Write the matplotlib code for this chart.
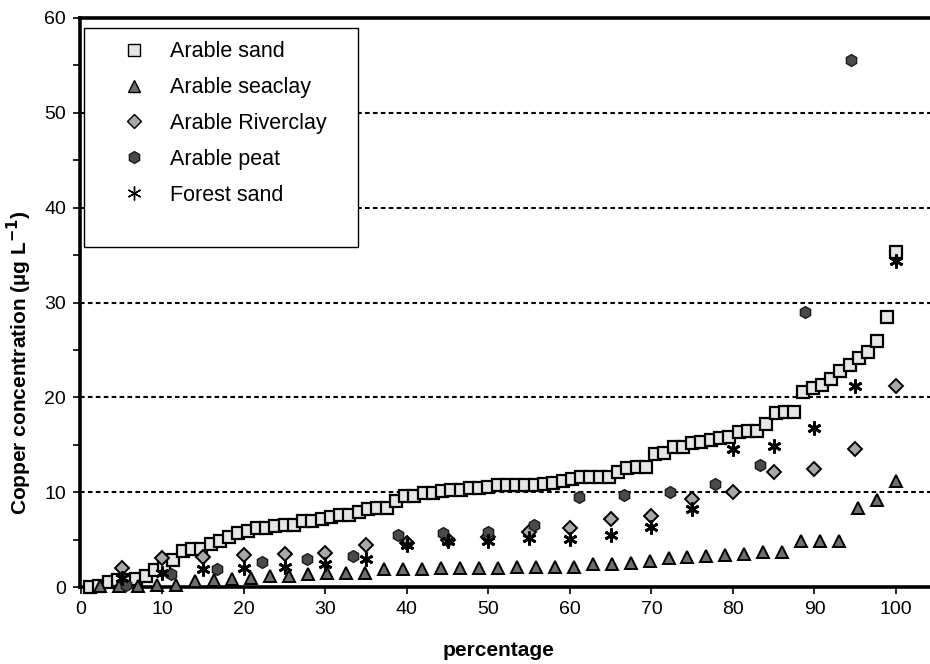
import matplotlib
matplotlib.use("Agg")
import matplotlib.pyplot as plt
from matplotlib.patches import Rectangle
from matplotlib.ticker import MultipleLocator

plt.rcParams["font.family"] = ["Liberation Sans", "DejaVu Sans"]

# cumulative percentage (rank / n * 100) vs. copper concentration (ug/L)
sand_n = 88
sand_cu = [
    0.0, 0.1, 0.5, 0.7, 0.75, 0.8, 1.2, 1.8, 2.3, 2.8,
    3.8, 4.0, 4.0, 4.5, 4.9, 5.3, 5.7, 5.9, 6.2, 6.25,
    6.4, 6.5, 6.5, 7.0, 7.0, 7.2, 7.4, 7.6, 7.6, 7.9,
    8.2, 8.3, 8.3, 9.1, 9.6, 9.6, 9.9, 9.9, 10.1, 10.2,
    10.2, 10.4, 10.4, 10.5, 10.8, 10.8, 10.8, 10.8, 10.8, 10.9,
    11.0, 11.2, 11.4, 11.6, 11.6, 11.6, 11.6, 12.1, 12.5, 12.7,
    12.7, 14.0, 14.1, 14.8, 14.8, 15.2, 15.3, 15.5, 15.7, 15.8,
    16.3, 16.4, 16.5, 17.2, 18.4, 18.5, 18.5, 20.6, 21.0, 21.3,
    21.9, 22.8, 23.4, 24.1, 24.8, 25.9, 28.5, 35.3,
]

seaclay_n = 43
seaclay_cu = [
    0.1, 0.1, 0.1, 0.2, 0.25, 0.6, 0.7, 0.85, 0.9, 1.2,
    1.2, 1.35, 1.5, 1.5, 1.5, 1.9, 1.9, 1.9, 2.0, 2.0,
    2.0, 2.0, 2.15, 2.15, 2.15, 2.15, 2.4, 2.4, 2.5, 2.75,
    3.1, 3.2, 3.3, 3.4, 3.5, 3.7, 3.7, 4.8, 4.8, 4.9,
    8.3, 9.2, 11.2,
]

riverclay_n = 20
riverclay_cu = [
    2.0, 3.1, 3.2, 3.4, 3.5, 3.6, 4.4, 4.6, 5.0, 5.3,
    5.8, 6.2, 7.2, 7.5, 9.3, 10.0, 12.1, 12.4, 14.5, 21.2,
]

# 18 samples, the last one lies above the plotted range
peat_n = 18
peat_cu = [
    0.2, 1.4, 1.9, 2.6, 2.9, 3.3, 5.5, 5.7, 5.8, 6.5,
    9.5, 9.7, 10.0, 10.9, 12.9, 29.0, 55.6,
]

forest_n = 20
forest_cu = [
    1.0, 1.5, 1.9, 2.0, 2.1, 2.4, 3.0, 4.4, 4.8, 4.9,
    5.2, 5.1, 5.5, 6.3, 8.2, 14.5, 14.9, 16.8, 21.2, 34.4,
]

grid_levels = [10, 20, 30, 40, 50]


def pct(n, values):
    return [100.0 * (i + 1) / n for i in range(len(values))]


fig = plt.figure(figsize=(9.3, 6.64), dpi=100)
ax = fig.add_axes([80 / 930, 1 - 587 / 664, 1 - 80 / 930, (587 - 18) / 664])

for lvl in grid_levels:
    ax.axhline(lvl, color="black", lw=1.5, ls=(0, (2.2, 1.6)), zorder=1)

common = dict(ls="none", clip_on=False, zorder=3)
ax.plot(pct(sand_n, sand_cu), sand_cu, marker="s", ms=8, mfc="#e6e6e6",
        mec="black", mew=1.6, label="Arable sand", **common)
ax.plot(pct(seaclay_n, seaclay_cu), seaclay_cu, marker="^", ms=9, mfc="#6e6e6e",
        mec="black", mew=1.4, label="Arable seaclay", **common)
ax.plot(pct(riverclay_n, riverclay_cu), riverclay_cu, marker="D", ms=7, mfc="#a8a8a8",
        mec="black", mew=1.4, label="Arable Riverclay", **common)
ax.plot(pct(peat_n, peat_cu), peat_cu, marker="h", ms=8.5, mfc="#4a4a4a",
        mec="#1a1a1a", mew=1.0, label="Arable peat", **common)
ax.plot(pct(forest_n, forest_cu), forest_cu, marker=(6, 2, 0), ms=10, mfc="black",
        mec="black", mew=2.0, label="Forest sand", **common)

ax.set_xlim(-0.1, (930 - 81) / 8.15)
ax.set_ylim(0, 60)
ax.xaxis.set_major_locator(MultipleLocator(10))
ax.yaxis.set_major_locator(MultipleLocator(10))
ax.yaxis.set_minor_locator(MultipleLocator(5))
ax.tick_params(axis="both", which="major", direction="out", length=5, width=1.2,
               labelsize=14, pad=5)
ax.tick_params(axis="y", which="minor", direction="out", length=5, width=1.2)

for side in ("left", "bottom", "top"):
    ax.spines[side].set_linewidth(2.6)
ax.spines["right"].set_visible(False)

ax.set_xlabel("percentage", fontsize=15, fontweight="bold")
ax.xaxis.set_label_coords(0.492, -0.095)
ax.set_ylabel("Copper concentration (µg L$^{\\mathbf{-1}}$)", fontsize=15,
              fontweight="bold")
ax.yaxis.set_label_coords(-0.054, 0.394)

leg = ax.legend(loc="upper left", bbox_to_anchor=(0.038, 0.978), frameon=False,
                fontsize=15.5, handlelength=1.0, handletextpad=1.2,
                labelspacing=0.69, borderpad=0)
for h in leg.legend_handles:
    h.set_markeredgewidth(1.0)
ax.add_patch(Rectangle((4 / 850, 0.598), (358 - 84) / 850, 0.982 - 0.598,
                       transform=ax.transAxes, fill=True, facecolor="white",
                       edgecolor="black", lw=1.0, zorder=4))
leg.set_zorder(5)

fig.savefig("out.png", dpi=100)
